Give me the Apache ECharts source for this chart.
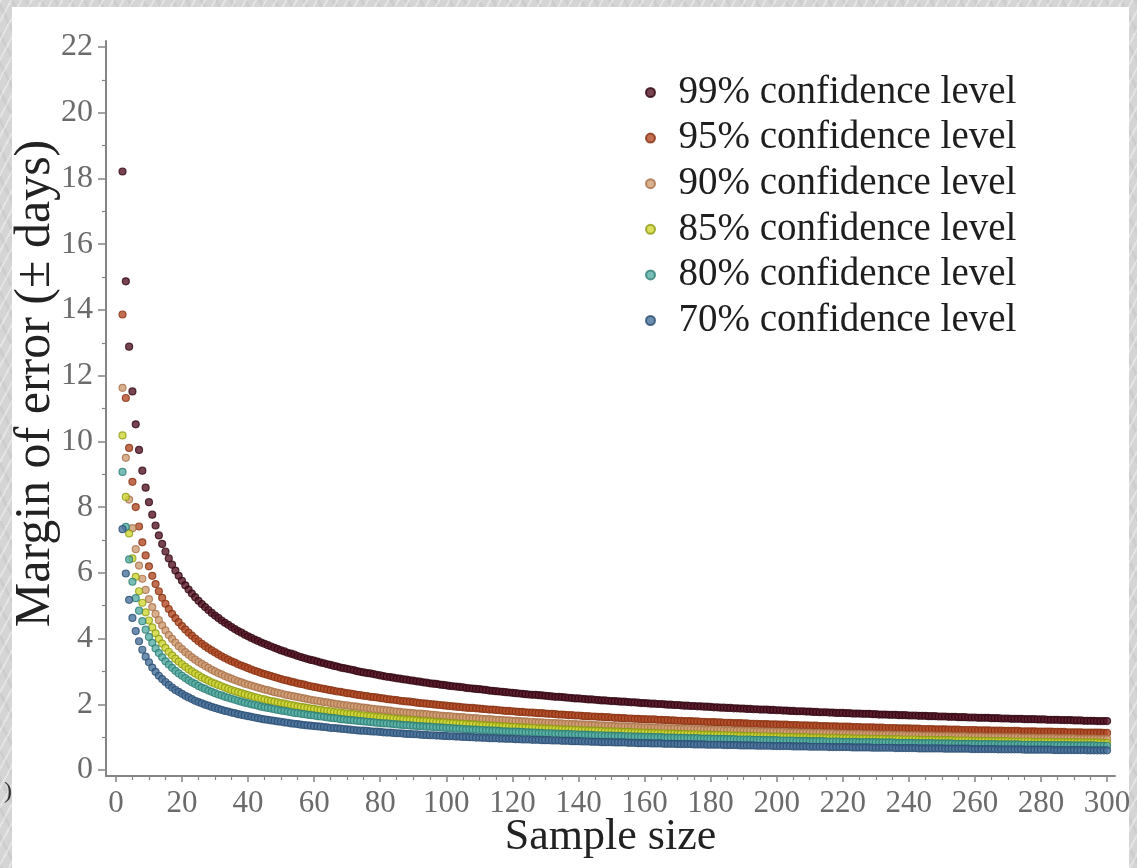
<!DOCTYPE html>
<html>
<head>
<meta charset="utf-8">
<title>Margin of error by sample size</title>
<script src="https://cdn.jsdelivr.net/npm/echarts@6/dist/echarts.min.js"></script>
<style>
  html, body { margin: 0; padding: 0; width: 1137px; height: 868px; overflow: hidden; }
  body {
    position: relative;
    background-color: #d5d5d5;
    background-image:
      repeating-linear-gradient(118deg, rgba(255,255,255,0.35) 0 2px, rgba(0,0,0,0) 2px 9px),
      repeating-linear-gradient(63deg, rgba(0,0,0,0.04) 0 3px, rgba(0,0,0,0) 3px 13px);
  }
  #panel { position: absolute; left: 12px; top: 7px; width: 1117px; height: 861px; background: #ffffff; }
  #chart { position: absolute; left: 0; top: 0; width: 1137px; height: 868px; }
</style>
</head>
<body>
<div id="panel"></div>
<div id="chart"></div>
<script>
// Sample sizes on the horizontal axis
const sampleSizes = [
  2, 3, 4, 5, 6, 7, 8, 9, 10,
  11, 12, 13, 14, 15, 16, 17, 18, 19, 20,
  21, 22, 23, 24, 25, 26, 27, 28, 29, 30,
  31, 32, 33, 34, 35, 36, 37, 38, 39, 40,
  41, 42, 43, 44, 45, 46, 47, 48, 49, 50,
  51, 52, 53, 54, 55, 56, 57, 58, 59, 60,
  61, 62, 63, 64, 65, 66, 67, 68, 69, 70,
  71, 72, 73, 74, 75, 76, 77, 78, 79, 80,
  81, 82, 83, 84, 85, 86, 87, 88, 89, 90,
  91, 92, 93, 94, 95, 96, 97, 98, 99, 100,
  101, 102, 103, 104, 105, 106, 107, 108, 109, 110,
  111, 112, 113, 114, 115, 116, 117, 118, 119, 120,
  121, 122, 123, 124, 125, 126, 127, 128, 129, 130,
  131, 132, 133, 134, 135, 136, 137, 138, 139, 140,
  141, 142, 143, 144, 145, 146, 147, 148, 149, 150,
  151, 152, 153, 154, 155, 156, 157, 158, 159, 160,
  161, 162, 163, 164, 165, 166, 167, 168, 169, 170,
  171, 172, 173, 174, 175, 176, 177, 178, 179, 180,
  181, 182, 183, 184, 185, 186, 187, 188, 189, 190,
  191, 192, 193, 194, 195, 196, 197, 198, 199, 200,
  201, 202, 203, 204, 205, 206, 207, 208, 209, 210,
  211, 212, 213, 214, 215, 216, 217, 218, 219, 220,
  221, 222, 223, 224, 225, 226, 227, 228, 229, 230,
  231, 232, 233, 234, 235, 236, 237, 238, 239, 240,
  241, 242, 243, 244, 245, 246, 247, 248, 249, 250,
  251, 252, 253, 254, 255, 256, 257, 258, 259, 260,
  261, 262, 263, 264, 265, 266, 267, 268, 269, 270,
  271, 272, 273, 274, 275, 276, 277, 278, 279, 280,
  281, 282, 283, 284, 285, 286, 287, 288, 289, 290,
  291, 292, 293, 294, 295, 296, 297, 298, 299, 300
];

// Margin of error (± days) for each sample size, one list per confidence level
const margin99 = [
  18.21, 14.87, 12.88, 11.52, 10.52, 9.74, 9.11, 8.59, 8.15,
  7.77, 7.44, 7.14, 6.88, 6.65, 6.44, 6.25, 6.07, 5.91, 5.76,
  5.62, 5.49, 5.37, 5.26, 5.15, 5.05, 4.96, 4.87, 4.78, 4.70,
  4.63, 4.55, 4.48, 4.42, 4.35, 4.29, 4.23, 4.18, 4.12, 4.07,
  4.02, 3.97, 3.93, 3.88, 3.84, 3.80, 3.76, 3.72, 3.68, 3.64,
  3.61, 3.57, 3.54, 3.51, 3.47, 3.44, 3.41, 3.38, 3.35, 3.33,
  3.30, 3.27, 3.25, 3.22, 3.20, 3.17, 3.15, 3.12, 3.10, 3.08,
  3.06, 3.04, 3.01, 2.99, 2.97, 2.95, 2.94, 2.92, 2.90, 2.88,
  2.86, 2.84, 2.83, 2.81, 2.79, 2.78, 2.76, 2.75, 2.73, 2.72,
  2.70, 2.69, 2.67, 2.66, 2.64, 2.63, 2.62, 2.60, 2.59, 2.58,
  2.56, 2.55, 2.54, 2.53, 2.52, 2.50, 2.49, 2.48, 2.47, 2.46,
  2.45, 2.44, 2.42, 2.41, 2.40, 2.39, 2.38, 2.37, 2.36, 2.35,
  2.34, 2.33, 2.32, 2.31, 2.30, 2.29, 2.29, 2.28, 2.27, 2.26,
  2.25, 2.24, 2.23, 2.23, 2.22, 2.21, 2.20, 2.19, 2.18, 2.18,
  2.17, 2.16, 2.15, 2.15, 2.14, 2.13, 2.12, 2.12, 2.11, 2.10,
  2.10, 2.09, 2.08, 2.08, 2.07, 2.06, 2.06, 2.05, 2.04, 2.04,
  2.03, 2.02, 2.02, 2.01, 2.01, 2.00, 1.99, 1.99, 1.98, 1.98,
  1.97, 1.96, 1.96, 1.95, 1.95, 1.94, 1.94, 1.93, 1.93, 1.92,
  1.91, 1.91, 1.90, 1.90, 1.89, 1.89, 1.88, 1.88, 1.87, 1.87,
  1.86, 1.86, 1.85, 1.85, 1.84, 1.84, 1.84, 1.83, 1.83, 1.82,
  1.82, 1.81, 1.81, 1.80, 1.80, 1.79, 1.79, 1.79, 1.78, 1.78,
  1.77, 1.77, 1.76, 1.76, 1.76, 1.75, 1.75, 1.74, 1.74, 1.74,
  1.73, 1.73, 1.72, 1.72, 1.72, 1.71, 1.71, 1.71, 1.70, 1.70,
  1.69, 1.69, 1.69, 1.68, 1.68, 1.68, 1.67, 1.67, 1.67, 1.66,
  1.66, 1.66, 1.65, 1.65, 1.65, 1.64, 1.64, 1.64, 1.63, 1.63,
  1.63, 1.62, 1.62, 1.62, 1.61, 1.61, 1.61, 1.60, 1.60, 1.60,
  1.59, 1.59, 1.59, 1.59, 1.58, 1.58, 1.58, 1.57, 1.57, 1.57,
  1.56, 1.56, 1.56, 1.56, 1.55, 1.55, 1.55, 1.55, 1.54, 1.54,
  1.54, 1.53, 1.53, 1.53, 1.53, 1.52, 1.52, 1.52, 1.52, 1.51,
  1.51, 1.51, 1.50, 1.50, 1.50, 1.50, 1.49, 1.49, 1.49, 1.49
];

const margin95 = [
  13.86, 11.32, 9.80, 8.77, 8.00, 7.41, 6.93, 6.53, 6.20,
  5.91, 5.66, 5.44, 5.24, 5.06, 4.90, 4.75, 4.62, 4.50, 4.38,
  4.28, 4.18, 4.09, 4.00, 3.92, 3.84, 3.77, 3.70, 3.64, 3.58,
  3.52, 3.46, 3.41, 3.36, 3.31, 3.27, 3.22, 3.18, 3.14, 3.10,
  3.06, 3.02, 2.99, 2.95, 2.92, 2.89, 2.86, 2.83, 2.80, 2.77,
  2.74, 2.72, 2.69, 2.67, 2.64, 2.62, 2.60, 2.57, 2.55, 2.53,
  2.51, 2.49, 2.47, 2.45, 2.43, 2.41, 2.39, 2.38, 2.36, 2.34,
  2.33, 2.31, 2.29, 2.28, 2.26, 2.25, 2.23, 2.22, 2.21, 2.19,
  2.18, 2.16, 2.15, 2.14, 2.13, 2.11, 2.10, 2.09, 2.08, 2.07,
  2.05, 2.04, 2.03, 2.02, 2.01, 2.00, 1.99, 1.98, 1.97, 1.96,
  1.95, 1.94, 1.93, 1.92, 1.91, 1.90, 1.89, 1.89, 1.88, 1.87,
  1.86, 1.85, 1.84, 1.84, 1.83, 1.82, 1.81, 1.80, 1.80, 1.79,
  1.78, 1.77, 1.77, 1.76, 1.75, 1.75, 1.74, 1.73, 1.73, 1.72,
  1.71, 1.71, 1.70, 1.69, 1.69, 1.68, 1.67, 1.67, 1.66, 1.66,
  1.65, 1.64, 1.64, 1.63, 1.63, 1.62, 1.62, 1.61, 1.61, 1.60,
  1.59, 1.59, 1.58, 1.58, 1.57, 1.57, 1.56, 1.56, 1.55, 1.55,
  1.54, 1.54, 1.54, 1.53, 1.53, 1.52, 1.52, 1.51, 1.51, 1.50,
  1.50, 1.49, 1.49, 1.49, 1.48, 1.48, 1.47, 1.47, 1.46, 1.46,
  1.46, 1.45, 1.45, 1.44, 1.44, 1.44, 1.43, 1.43, 1.43, 1.42,
  1.42, 1.41, 1.41, 1.41, 1.40, 1.40, 1.40, 1.39, 1.39, 1.39,
  1.38, 1.38, 1.38, 1.37, 1.37, 1.37, 1.36, 1.36, 1.36, 1.35,
  1.35, 1.35, 1.34, 1.34, 1.34, 1.33, 1.33, 1.33, 1.32, 1.32,
  1.32, 1.32, 1.31, 1.31, 1.31, 1.30, 1.30, 1.30, 1.30, 1.29,
  1.29, 1.29, 1.28, 1.28, 1.28, 1.28, 1.27, 1.27, 1.27, 1.27,
  1.26, 1.26, 1.26, 1.25, 1.25, 1.25, 1.25, 1.24, 1.24, 1.24,
  1.24, 1.23, 1.23, 1.23, 1.23, 1.22, 1.22, 1.22, 1.22, 1.22,
  1.21, 1.21, 1.21, 1.21, 1.20, 1.20, 1.20, 1.20, 1.19, 1.19,
  1.19, 1.19, 1.19, 1.18, 1.18, 1.18, 1.18, 1.18, 1.17, 1.17,
  1.17, 1.17, 1.17, 1.16, 1.16, 1.16, 1.16, 1.15, 1.15, 1.15,
  1.15, 1.15, 1.14, 1.14, 1.14, 1.14, 1.14, 1.14, 1.13, 1.13
];

const margin90 = [
  11.63, 9.50, 8.23, 7.36, 6.72, 6.22, 5.82, 5.48, 5.20,
  4.96, 4.75, 4.56, 4.40, 4.25, 4.11, 3.99, 3.88, 3.77, 3.68,
  3.59, 3.51, 3.43, 3.36, 3.29, 3.23, 3.17, 3.11, 3.05, 3.00,
  2.95, 2.91, 2.86, 2.82, 2.78, 2.74, 2.70, 2.67, 2.63, 2.60,
  2.57, 2.54, 2.51, 2.48, 2.45, 2.43, 2.40, 2.37, 2.35, 2.33,
  2.30, 2.28, 2.26, 2.24, 2.22, 2.20, 2.18, 2.16, 2.14, 2.12,
  2.11, 2.09, 2.07, 2.06, 2.04, 2.02, 2.01, 1.99, 1.98, 1.97,
  1.95, 1.94, 1.93, 1.91, 1.90, 1.89, 1.87, 1.86, 1.85, 1.84,
  1.83, 1.82, 1.81, 1.79, 1.78, 1.77, 1.76, 1.75, 1.74, 1.73,
  1.72, 1.72, 1.71, 1.70, 1.69, 1.68, 1.67, 1.66, 1.65, 1.64,
  1.64, 1.63, 1.62, 1.61, 1.61, 1.60, 1.59, 1.58, 1.58, 1.57,
  1.56, 1.55, 1.55, 1.54, 1.53, 1.53, 1.52, 1.51, 1.51, 1.50,
  1.50, 1.49, 1.48, 1.48, 1.47, 1.47, 1.46, 1.45, 1.45, 1.44,
  1.44, 1.43, 1.43, 1.42, 1.42, 1.41, 1.41, 1.40, 1.40, 1.39,
  1.39, 1.38, 1.38, 1.37, 1.37, 1.36, 1.36, 1.35, 1.35, 1.34,
  1.34, 1.33, 1.33, 1.33, 1.32, 1.32, 1.31, 1.31, 1.30, 1.30,
  1.30, 1.29, 1.29, 1.28, 1.28, 1.28, 1.27, 1.27, 1.27, 1.26,
  1.26, 1.25, 1.25, 1.25, 1.24, 1.24, 1.24, 1.23, 1.23, 1.23,
  1.22, 1.22, 1.22, 1.21, 1.21, 1.21, 1.20, 1.20, 1.20, 1.19,
  1.19, 1.19, 1.18, 1.18, 1.18, 1.17, 1.17, 1.17, 1.17, 1.16,
  1.16, 1.16, 1.15, 1.15, 1.15, 1.15, 1.14, 1.14, 1.14, 1.14,
  1.13, 1.13, 1.13, 1.12, 1.12, 1.12, 1.12, 1.11, 1.11, 1.11,
  1.11, 1.10, 1.10, 1.10, 1.10, 1.09, 1.09, 1.09, 1.09, 1.08,
  1.08, 1.08, 1.08, 1.08, 1.07, 1.07, 1.07, 1.07, 1.06, 1.06,
  1.06, 1.06, 1.06, 1.05, 1.05, 1.05, 1.05, 1.04, 1.04, 1.04,
  1.04, 1.04, 1.03, 1.03, 1.03, 1.03, 1.03, 1.02, 1.02, 1.02,
  1.02, 1.02, 1.01, 1.01, 1.01, 1.01, 1.01, 1.00, 1.00, 1.00,
  1.00, 1.00, 1.00, 0.99, 0.99, 0.99, 0.99, 0.99, 0.98, 0.98,
  0.98, 0.98, 0.98, 0.98, 0.97, 0.97, 0.97, 0.97, 0.97, 0.97,
  0.96, 0.96, 0.96, 0.96, 0.96, 0.96, 0.95, 0.95, 0.95, 0.95
];

const margin85 = [
  10.18, 8.31, 7.20, 6.44, 5.88, 5.44, 5.09, 4.80, 4.55,
  4.34, 4.16, 3.99, 3.85, 3.72, 3.60, 3.49, 3.39, 3.30, 3.22,
  3.14, 3.07, 3.00, 2.94, 2.88, 2.82, 2.77, 2.72, 2.67, 2.63,
  2.59, 2.55, 2.51, 2.47, 2.43, 2.40, 2.37, 2.34, 2.31, 2.28,
  2.25, 2.22, 2.20, 2.17, 2.15, 2.12, 2.10, 2.08, 2.06, 2.04,
  2.02, 2.00, 1.98, 1.96, 1.94, 1.92, 1.91, 1.89, 1.87, 1.86,
  1.84, 1.83, 1.81, 1.80, 1.79, 1.77, 1.76, 1.75, 1.73, 1.72,
  1.71, 1.70, 1.69, 1.67, 1.66, 1.65, 1.64, 1.63, 1.62, 1.61,
  1.60, 1.59, 1.58, 1.57, 1.56, 1.55, 1.54, 1.53, 1.53, 1.52,
  1.51, 1.50, 1.49, 1.49, 1.48, 1.47, 1.46, 1.45, 1.45, 1.44,
  1.43, 1.43, 1.42, 1.41, 1.41, 1.40, 1.39, 1.39, 1.38, 1.37,
  1.37, 1.36, 1.35, 1.35, 1.34, 1.34, 1.33, 1.33, 1.32, 1.31,
  1.31, 1.30, 1.30, 1.29, 1.29, 1.28, 1.28, 1.27, 1.27, 1.26,
  1.26, 1.25, 1.25, 1.24, 1.24, 1.23, 1.23, 1.23, 1.22, 1.22,
  1.21, 1.21, 1.20, 1.20, 1.20, 1.19, 1.19, 1.18, 1.18, 1.18,
  1.17, 1.17, 1.16, 1.16, 1.16, 1.15, 1.15, 1.15, 1.14, 1.14,
  1.13, 1.13, 1.13, 1.12, 1.12, 1.12, 1.11, 1.11, 1.11, 1.10,
  1.10, 1.10, 1.09, 1.09, 1.09, 1.09, 1.08, 1.08, 1.08, 1.07,
  1.07, 1.07, 1.06, 1.06, 1.06, 1.06, 1.05, 1.05, 1.05, 1.04,
  1.04, 1.04, 1.04, 1.03, 1.03, 1.03, 1.03, 1.02, 1.02, 1.02,
  1.02, 1.01, 1.01, 1.01, 1.01, 1.00, 1.00, 1.00, 1.00, 0.99,
  0.99, 0.99, 0.99, 0.98, 0.98, 0.98, 0.98, 0.98, 0.97, 0.97,
  0.97, 0.97, 0.96, 0.96, 0.96, 0.96, 0.96, 0.95, 0.95, 0.95,
  0.95, 0.95, 0.94, 0.94, 0.94, 0.94, 0.94, 0.93, 0.93, 0.93,
  0.93, 0.93, 0.92, 0.92, 0.92, 0.92, 0.92, 0.91, 0.91, 0.91,
  0.91, 0.91, 0.91, 0.90, 0.90, 0.90, 0.90, 0.90, 0.89, 0.89,
  0.89, 0.89, 0.89, 0.89, 0.88, 0.88, 0.88, 0.88, 0.88, 0.88,
  0.87, 0.87, 0.87, 0.87, 0.87, 0.87, 0.87, 0.86, 0.86, 0.86,
  0.86, 0.86, 0.86, 0.85, 0.85, 0.85, 0.85, 0.85, 0.85, 0.85,
  0.84, 0.84, 0.84, 0.84, 0.84, 0.84, 0.84, 0.83, 0.83, 0.83
];

const margin80 = [
  9.07, 7.40, 6.41, 5.73, 5.23, 4.85, 4.53, 4.27, 4.05,
  3.87, 3.70, 3.56, 3.43, 3.31, 3.21, 3.11, 3.02, 2.94, 2.87,
  2.80, 2.73, 2.67, 2.62, 2.56, 2.51, 2.47, 2.42, 2.38, 2.34,
  2.30, 2.27, 2.23, 2.20, 2.17, 2.14, 2.11, 2.08, 2.05, 2.03,
  2.00, 1.98, 1.96, 1.93, 1.91, 1.89, 1.87, 1.85, 1.83, 1.81,
  1.80, 1.78, 1.76, 1.74, 1.73, 1.71, 1.70, 1.68, 1.67, 1.66,
  1.64, 1.63, 1.62, 1.60, 1.59, 1.58, 1.57, 1.55, 1.54, 1.53,
  1.52, 1.51, 1.50, 1.49, 1.48, 1.47, 1.46, 1.45, 1.44, 1.43,
  1.42, 1.42, 1.41, 1.40, 1.39, 1.38, 1.37, 1.37, 1.36, 1.35,
  1.34, 1.34, 1.33, 1.32, 1.32, 1.31, 1.30, 1.30, 1.29, 1.28,
  1.28, 1.27, 1.26, 1.26, 1.25, 1.24, 1.24, 1.23, 1.23, 1.22,
  1.22, 1.21, 1.21, 1.20, 1.20, 1.19, 1.18, 1.18, 1.17, 1.17,
  1.17, 1.16, 1.16, 1.15, 1.15, 1.14, 1.14, 1.13, 1.13, 1.12,
  1.12, 1.12, 1.11, 1.11, 1.10, 1.10, 1.10, 1.09, 1.09, 1.08,
  1.08, 1.08, 1.07, 1.07, 1.06, 1.06, 1.06, 1.05, 1.05, 1.05,
  1.04, 1.04, 1.04, 1.03, 1.03, 1.03, 1.02, 1.02, 1.02, 1.01,
  1.01, 1.01, 1.00, 1.00, 1.00, 0.99, 0.99, 0.99, 0.99, 0.98,
  0.98, 0.98, 0.97, 0.97, 0.97, 0.97, 0.96, 0.96, 0.96, 0.96,
  0.95, 0.95, 0.95, 0.95, 0.94, 0.94, 0.94, 0.93, 0.93, 0.93,
  0.93, 0.93, 0.92, 0.92, 0.92, 0.92, 0.91, 0.91, 0.91, 0.91,
  0.90, 0.90, 0.90, 0.90, 0.90, 0.89, 0.89, 0.89, 0.89, 0.88,
  0.88, 0.88, 0.88, 0.88, 0.87, 0.87, 0.87, 0.87, 0.87, 0.86,
  0.86, 0.86, 0.86, 0.86, 0.85, 0.85, 0.85, 0.85, 0.85, 0.85,
  0.84, 0.84, 0.84, 0.84, 0.84, 0.83, 0.83, 0.83, 0.83, 0.83,
  0.83, 0.82, 0.82, 0.82, 0.82, 0.82, 0.82, 0.81, 0.81, 0.81,
  0.81, 0.81, 0.81, 0.80, 0.80, 0.80, 0.80, 0.80, 0.80, 0.80,
  0.79, 0.79, 0.79, 0.79, 0.79, 0.79, 0.78, 0.78, 0.78, 0.78,
  0.78, 0.78, 0.78, 0.77, 0.77, 0.77, 0.77, 0.77, 0.77, 0.77,
  0.76, 0.76, 0.76, 0.76, 0.76, 0.76, 0.76, 0.76, 0.75, 0.75,
  0.75, 0.75, 0.75, 0.75, 0.75, 0.75, 0.74, 0.74, 0.74, 0.74
];

const margin70 = [
  7.33, 5.98, 5.18, 4.63, 4.23, 3.92, 3.66, 3.45, 3.28,
  3.12, 2.99, 2.87, 2.77, 2.68, 2.59, 2.51, 2.44, 2.38, 2.32,
  2.26, 2.21, 2.16, 2.11, 2.07, 2.03, 1.99, 1.96, 1.92, 1.89,
  1.86, 1.83, 1.80, 1.78, 1.75, 1.73, 1.70, 1.68, 1.66, 1.64,
  1.62, 1.60, 1.58, 1.56, 1.54, 1.53, 1.51, 1.50, 1.48, 1.47,
  1.45, 1.44, 1.42, 1.41, 1.40, 1.38, 1.37, 1.36, 1.35, 1.34,
  1.33, 1.32, 1.31, 1.30, 1.28, 1.28, 1.27, 1.26, 1.25, 1.24,
  1.23, 1.22, 1.21, 1.20, 1.20, 1.19, 1.18, 1.17, 1.17, 1.16,
  1.15, 1.14, 1.14, 1.13, 1.12, 1.12, 1.11, 1.10, 1.10, 1.09,
  1.09, 1.08, 1.07, 1.07, 1.06, 1.06, 1.05, 1.05, 1.04, 1.04,
  1.03, 1.03, 1.02, 1.02, 1.01, 1.01, 1.00, 1.00, 0.99, 0.99,
  0.98, 0.98, 0.97, 0.97, 0.97, 0.96, 0.96, 0.95, 0.95, 0.95,
  0.94, 0.94, 0.93, 0.93, 0.93, 0.92, 0.92, 0.92, 0.91, 0.91,
  0.91, 0.90, 0.90, 0.90, 0.89, 0.89, 0.89, 0.88, 0.88, 0.88,
  0.87, 0.87, 0.87, 0.86, 0.86, 0.86, 0.85, 0.85, 0.85, 0.85,
  0.84, 0.84, 0.84, 0.84, 0.83, 0.83, 0.83, 0.82, 0.82, 0.82,
  0.82, 0.81, 0.81, 0.81, 0.81, 0.80, 0.80, 0.80, 0.80, 0.79,
  0.79, 0.79, 0.79, 0.79, 0.78, 0.78, 0.78, 0.78, 0.77, 0.77,
  0.77, 0.77, 0.77, 0.76, 0.76, 0.76, 0.76, 0.76, 0.75, 0.75,
  0.75, 0.75, 0.75, 0.74, 0.74, 0.74, 0.74, 0.74, 0.73, 0.73,
  0.73, 0.73, 0.73, 0.73, 0.72, 0.72, 0.72, 0.72, 0.72, 0.71,
  0.71, 0.71, 0.71, 0.71, 0.71, 0.70, 0.70, 0.70, 0.70, 0.70,
  0.70, 0.70, 0.69, 0.69, 0.69, 0.69, 0.69, 0.69, 0.68, 0.68,
  0.68, 0.68, 0.68, 0.68, 0.68, 0.67, 0.67, 0.67, 0.67, 0.67,
  0.67, 0.67, 0.66, 0.66, 0.66, 0.66, 0.66, 0.66, 0.66, 0.66,
  0.65, 0.65, 0.65, 0.65, 0.65, 0.65, 0.65, 0.65, 0.64, 0.64,
  0.64, 0.64, 0.64, 0.64, 0.64, 0.64, 0.63, 0.63, 0.63, 0.63,
  0.63, 0.63, 0.63, 0.63, 0.62, 0.62, 0.62, 0.62, 0.62, 0.62,
  0.62, 0.62, 0.62, 0.61, 0.61, 0.61, 0.61, 0.61, 0.61, 0.61,
  0.61, 0.61, 0.61, 0.60, 0.60, 0.60, 0.60, 0.60, 0.60, 0.60
];

// Legend entries, top to bottom
const levelNames = [
  '99% confidence level',
  '95% confidence level',
  '90% confidence level',
  '85% confidence level',
  '80% confidence level',
  '70% confidence level'
];

// Axis ticks and labels
const xMajorTicks = [0, 20, 40, 60, 80, 100, 120, 140, 160, 180, 200, 220, 240, 260, 280, 300];
const xMinorTicks = [5, 10, 15, 25, 30, 35, 45, 50, 55, 65, 70, 75, 85, 90, 95, 105, 110, 115,
  125, 130, 135, 145, 150, 155, 165, 170, 175, 185, 190, 195, 205, 210, 215, 225, 230, 235,
  245, 250, 255, 265, 270, 275, 285, 290, 295];
const yMajorTicks = [0, 2, 4, 6, 8, 10, 12, 14, 16, 18, 20, 22];
const yMinorTicks = [1, 3, 5, 7, 9, 11, 13, 15, 17, 19, 21];

const marginLists = [margin99, margin95, margin90, margin85, margin80, margin70];

// Dot fill and rim colours per confidence level
const dotFill = ['#561527', '#b24a26', '#cf9c72', '#cfd634', '#58aea4', '#4a729b'];
const dotRim  = ['#2f0611', '#86300f', '#a7704a', '#8d9a12', '#2c7d74', '#2a4d72'];

const FONT = '"Liberation Serif", "Times New Roman", serif';
const AXIS_GREY = '#858585';

const chart = echarts.init(document.getElementById('chart'), null, { renderer: 'canvas' });

const series = levelNames.map((name, k) => ({
  name: name,
  type: 'scatter',
  xAxisIndex: 0,
  yAxisIndex: 0,
  symbol: 'circle',
  symbolSize: 7,
  itemStyle: { color: dotFill[k], borderColor: dotRim[k], borderWidth: 1.2 },
  emphasis: { disabled: true },
  data: sampleSizes.map((n, i) => [n, marginLists[k][i]])
}));

const xRange = { min: -3, max: 302.4 };
const yRange = { min: -0.18, max: 22.18 };

chart.setOption({
  backgroundColor: 'transparent',
  animation: false,
  grid: { left: 106, right: 22, top: 41, bottom: 92, containLabel: false, outerBoundsMode: 'none' },
  legend: {
    data: levelNames,
    orient: 'vertical',
    left: 640,
    top: 68,
    icon: 'circle',
    itemWidth: 46,
    itemHeight: 9,
    itemGap: 6.6,
    selectedMode: false,
    textStyle: { fontFamily: FONT, fontSize: 39, lineHeight: 39, color: '#1e1e1e' }
  },
  xAxis: [
    {
      type: 'value',
      position: 'bottom',
      min: xRange.min,
      max: xRange.max,
      axisLine: { show: true, onZero: false, lineStyle: { color: AXIS_GREY, width: 2 } },
      axisTick: { show: true, customValues: xMajorTicks, length: 6, lineStyle: { color: AXIS_GREY, width: 1.5 } },
      axisLabel: {
        customValues: xMajorTicks, margin: 12,
        fontFamily: FONT, fontSize: 31, color: '#6b6b6b'
      },
      splitLine: { show: false },
      name: 'Sample size',
      nameLocation: 'middle',
      nameMoveOverlap: false,
      nameGap: 39,
      nameTextStyle: { fontFamily: FONT, fontSize: 44, color: '#222222' }
    },
    {
      type: 'value',
      position: 'bottom',
      min: xRange.min,
      max: xRange.max,
      axisLine: { show: false, onZero: false },
      axisTick: { show: true, customValues: xMinorTicks, length: 4, lineStyle: { color: AXIS_GREY, width: 1.2 } },
      axisLabel: { show: false },
      splitLine: { show: false }
    }
  ],
  yAxis: [
    {
      type: 'value',
      position: 'left',
      min: yRange.min,
      max: yRange.max,
      axisLine: { show: true, onZero: false, lineStyle: { color: AXIS_GREY, width: 2 } },
      axisTick: { show: true, customValues: yMajorTicks, length: 8, lineStyle: { color: AXIS_GREY, width: 1.5 } },
      axisLabel: {
        customValues: yMajorTicks, margin: 13,
        fontFamily: FONT, fontSize: 32, color: '#6b6b6b'
      },
      splitLine: { show: false },
      name: 'Margin of error (± days)',
      nameLocation: 'middle',
      nameMoveOverlap: false,
      nameGap: 45,
      nameTextStyle: { fontFamily: FONT, fontSize: 50, color: '#222222', padding: [0, 0, 0, 50] }
    },
    {
      type: 'value',
      position: 'left',
      min: yRange.min,
      max: yRange.max,
      axisLine: { show: false, onZero: false },
      axisTick: { show: true, customValues: yMinorTicks, length: 4, lineStyle: { color: AXIS_GREY, width: 1.2 } },
      axisLabel: { show: false },
      splitLine: { show: false }
    }
  ],
  graphic: [
    {
      type: 'text',
      left: 4,
      top: 780,
      silent: true,
      style: { text: ')', font: '24px ' + FONT, fill: '#333333' }
    }
  ],
  series: series
});
</script>
</body>
</html>
